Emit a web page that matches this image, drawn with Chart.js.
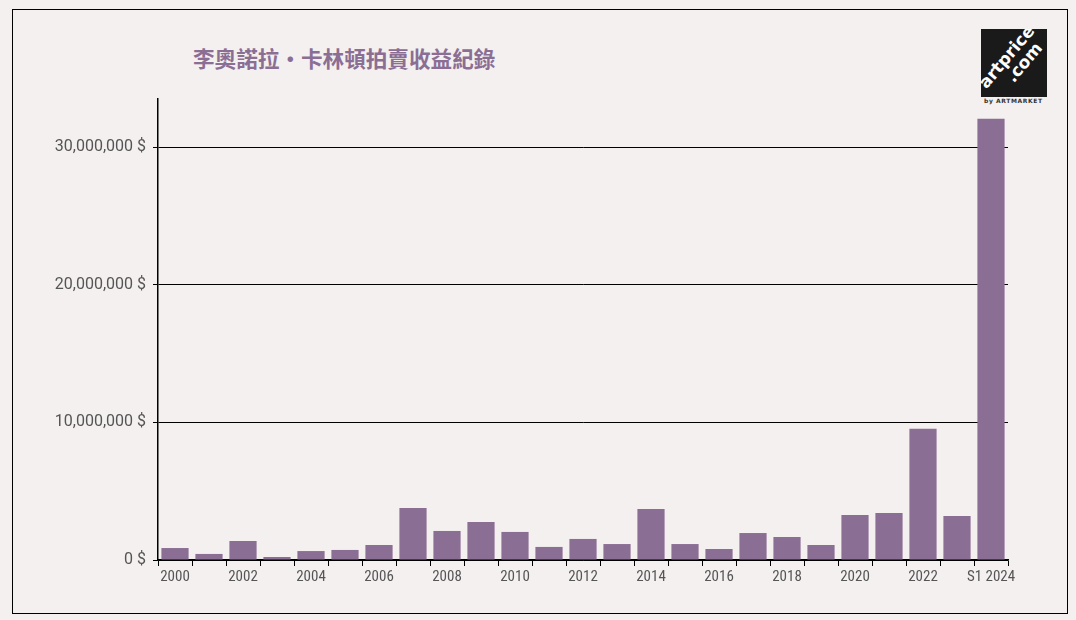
<!DOCTYPE html>
<html>
<head>
<meta charset="utf-8">
<script src="https://cdn.jsdelivr.net/npm/chart.js@4.4.1/dist/chart.umd.min.js"></script>
<style>
    html, body { margin: 0; padding: 0; background: #f4f0ef; }
    #wrap { position: relative; width: 1076px; height: 620px; overflow: hidden; }
    #frame { position: absolute; left: 12px; top: 9px; width: 1054px; height: 603px; border: 1px solid #000; }
    #title {
        position: absolute; left: 193px; top: 44px;
        font: bold 21.6px "Noto Sans CJK TC", sans-serif; color: #8b6e94;
        white-space: nowrap; line-height: 28px;
    }
    #logo { position: absolute; left: 981px; top: 29px; width: 66px; height: 68px; background: #1a1a1a; overflow: hidden; }
    #logo .txt {
        position: absolute; left: -17px; top: 16px; width: 100px; height: 36px;
        color: #fff; font: bold 17px "DejaVu Sans", sans-serif; line-height: 17px;
        transform: rotate(-50deg); transform-origin: 50% 50%; text-align: center;
    }
    #logo .txt span { display: block; }
    #logo .txt .com { text-align: right; padding-right: 20px; }
    #by { position: absolute; left: 984px; top: 97px; width: 66px; font: bold 6px "DejaVu Sans", sans-serif; color: #333; letter-spacing: 0.6px; }
    #c { position: absolute; left: 0; top: 0; }
</style>
</head>
<body>
<div id="wrap">
    <div id="frame"></div>
    <div id="title">李奧諾拉·卡林頓拍賣收益紀錄</div>
    <div id="logo"><div class="txt"><span>artprice</span><span class="com">.com</span></div></div>
    <div id="by">by ARTMARKET</div>
    <canvas id="c" width="1076" height="620"></canvas>
</div>
<script>
// Годы (последний — первое полугодие 2024)
const years = ['2000', '2001', '2002', '2003', '2004', '2005', '2006', '2007', '2008', '2009',
    '2010', '2011', '2012', '2013', '2014', '2015', '2016', '2017', '2018', '2019',
    '2020', '2021', '2022', '2023', 'S1 2024'];

// Оборот на аукционах, $
const turnover = [870000, 440000, 1380000, 220000, 650000, 730000, 1090000, 3780000, 2110000, 2760000,
    2040000, 950000, 1530000, 1160000, 3710000, 1160000, 800000, 1960000, 1670000, 1090000,
    3270000, 3420000, 9530000, 3200000, 32070000];

const yTicks = [0, 10000000, 20000000, 30000000];

const BAR_COLOR = '#8b6e94';
const TEXT_COLOR = '#555555';
const X_FONT = { family: '"Roboto Condensed", "Liberation Sans Narrow", sans-serif', size: 15 };
const Y_FONT = { family: 'Roboto, "Liberation Sans", sans-serif', size: 16 };

const fmt = v => v.toLocaleString('en-US') + ' $';

new Chart(document.getElementById('c'), {
    type: 'bar',
    data: {
        labels: years,
        datasets: [{
            data: turnover,
            backgroundColor: BAR_COLOR,
            barPercentage: 0.8,
            categoryPercentage: 1
        }]
    },
    options: {
        responsive: false,
        animation: false,
        layout: { padding: { top: 99, right: 68, left: 0, bottom: 0 } },
        plugins: {
            legend: { display: false },
            tooltip: { enabled: false }
        },
        scales: {
            x: {
                afterFit: scale => { scale.height = 60; },
                grid: { drawOnChartArea: false, color: '#000', tickLength: 6, offset: true },
                border: { color: '#000', width: 1.5 },
                ticks: {
                    autoSkip: false, maxRotation: 0, padding: 2,
                    color: TEXT_COLOR, font: X_FONT,
                    callback: (val, i) => (i % 2 === 0 ? years[i] : '')
                }
            },
            y: {
                min: 0,
                max: 33500000,
                afterFit: scale => { scale.width = 158; },
                afterBuildTicks: scale => { scale.ticks = yTicks.map(v => ({ value: v })); },
                grid: { color: '#000', tickLength: 5, lineWidth: 1 },
                border: { color: '#000', width: 1.5 },
                ticks: {
                    padding: 7, color: TEXT_COLOR, font: Y_FONT,
                    callback: v => fmt(v)
                }
            }
        }
    }
});
</script>
</body>
</html>
